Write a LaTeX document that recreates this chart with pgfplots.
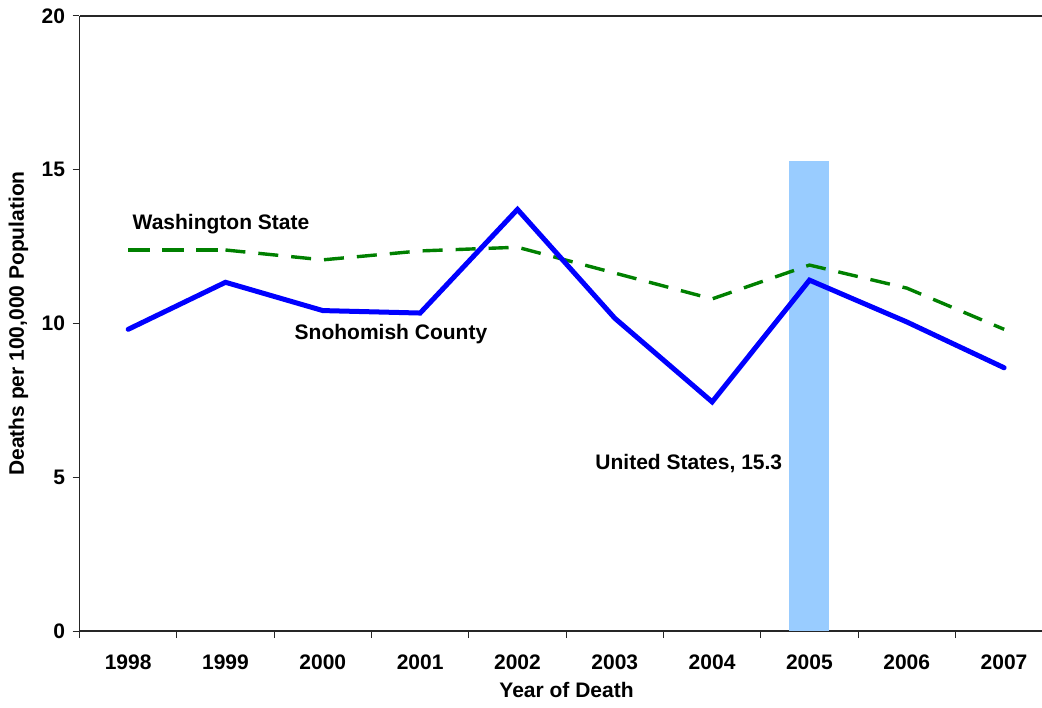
\documentclass[border=0pt]{standalone}
\usepackage{pgfplots}
\pgfplotsset{compat=1.18}
\usepackage{fontspec}
\setmainfont{Liberation Sans}
\usetikzlibrary{calc}
\definecolor{usblue}{RGB}{153,204,255}
\definecolor{wagreen}{RGB}{0,128,0}
\definecolor{snblue}{RGB}{0,0,255}
\begin{document}
\begin{tikzpicture}[font=\bfseries\fontsize{21}{25}\selectfont]
\begin{axis}[name=ax, scale only axis, width=962.5pt, height=615pt,
  xmin=1997.5, xmax=2007.389, ymin=0, ymax=20,
  axis x line=bottom, axis y line=left,
  axis line style={-, black!85, line width=1.3pt},
  ytick={0,5,10,15,20}, xtick={1998,...,2007},
  minor xtick={1997.5,1998.5,...,2006.5},
  tick align=outside, major tick length=7pt, minor tick length=7pt,
  tick style={black!85, line width=1pt},
  x tick style={draw=none},
  minor x tick style={draw=black!85, line width=1pt},
  xticklabel style={yshift=-13pt},
  yticklabel style={xshift=-4pt},
  /pgf/number format/assume math mode=true,
  xticklabel={\pgfmathprintnumber[1000 sep={}]{\tick}},
  xlabel={Year of Death},
  ylabel={Deaths per 100,000 Population},
  xlabel style={at={(axis description cs:0.506,-0.0959)}, anchor=center},
  ylabel style={at={(axis description cs:-0.0634,0.5)}, anchor=center},
  clip=false,
]
\addplot[ybar, bar width=40pt, fill=usblue, draw=none] coordinates {(2005,15.3)};
\addplot[wagreen, line width=3.4pt, dash pattern=on 20pt off 13pt] coordinates {
  (1999,12.39) (2000,12.07) (2001,12.36) (2002,12.48) (2003,11.64)
  (2004,10.80) (2005,11.90) (2006,11.15) (2007,9.81)};
\addplot[wagreen, line width=4.5pt, dash pattern=on 22pt off 12pt] coordinates {
  (1998,12.39) (1999,12.39)};
\addplot[snblue, line width=5pt, line cap=round, line join=miter] coordinates {
  (1998,9.81) (1999,11.34) (2000,10.42) (2001,10.34) (2002,13.71)
  (2003,10.17) (2004,7.45) (2005,11.41) (2006,10.05) (2007,8.56)};
\node at (axis cs:1998.954,13.236) {Washington State};
\node at (axis cs:2000.70,9.66) {Snohomish County};
\node at (axis cs:2003.76,5.46) {United States, 15.3};
\end{axis}
\draw[black!85, line width=1.3pt] (ax.north west) -- (ax.north east);
\pgfresetboundingbox
\useasboundingbox ($(ax.south west)+(-79.5pt,-77pt)$) rectangle ($(ax.north east)+(0pt,16pt)$);
\end{tikzpicture}
\end{document}
